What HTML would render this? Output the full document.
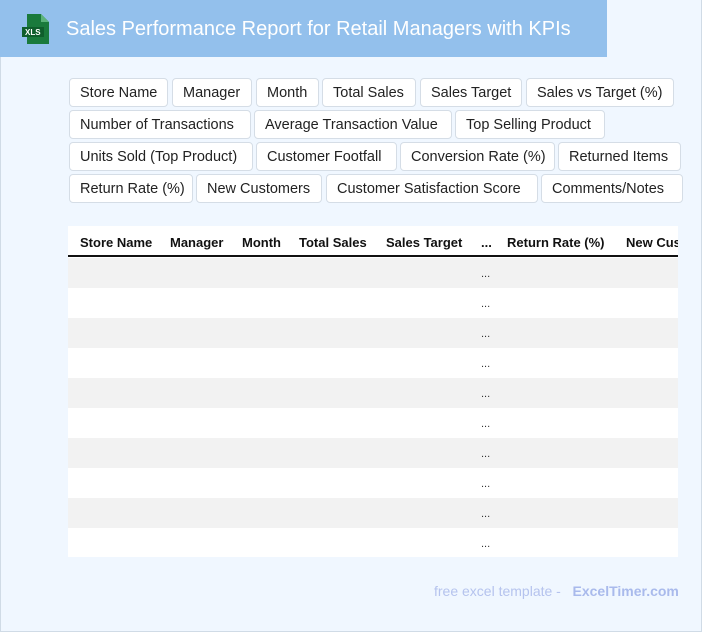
<!DOCTYPE html>
<html><head><meta charset="utf-8"><style>
*{margin:0;padding:0;box-sizing:border-box}
body{width:702px;height:632px;background:#eef6ff;font-family:"Liberation Sans",sans-serif;position:relative;overflow:hidden}
.frame{position:absolute;left:0;top:0;width:702px;height:632px;border:1px solid #d0dbe6;border-top:none;background:#f0f7ff}
.hdr{position:absolute;left:0;top:0;width:607px;height:57px;background:#93c0ec}
.hdr h1{position:absolute;left:66px;top:16px;font-size:20px;font-weight:normal;color:#fff;white-space:nowrap}
.b{position:absolute;height:29px;background:#fff;border:1px solid #d5dde6;border-radius:4px;font-size:14.5px;color:#222;line-height:29px;padding-left:10px;white-space:nowrap}
.tbl{position:absolute;left:68px;top:226px;width:610px;height:331px;background:#fff;overflow:hidden}
.th{position:absolute;top:0;height:31px;border-bottom:2px solid #111;width:610px}
.th span{position:absolute;top:9px;font-size:13px;font-weight:bold;color:#111;white-space:nowrap}
.r{position:absolute;left:0;width:610px;height:30px}
.r span{position:absolute;left:413px;top:10px;font-size:11px;color:#333}
.ft{position:absolute;top:583px;left:437px;font-size:14px;color:#b5c3ee;white-space:nowrap}
</style></head><body>
<div class="frame"></div>
<div class="hdr">
<svg style="position:absolute;left:21px;top:13px" width="30" height="32" viewBox="0 0 30 32"><path d="M6 1h14l8 8v22H6z" fill="#1a7a3c"/><path d="M20 1v8h8z" fill="#5bb37a"/><rect x="1" y="14" width="22" height="10" fill="#0f5e2c"/><text x="4" y="22" font-size="8" fill="#fff" font-family="Liberation Sans" font-weight="bold">XLS</text></svg>
<h1 style="top:18px">Sales Performance Report for Retail Managers with KPIs</h1></div>
<div class="b" style="left:69px;top:78px;width:99px">Store Name</div>
<div class="b" style="left:172px;top:78px;width:80px">Manager</div>
<div class="b" style="left:256px;top:78px;width:63px">Month</div>
<div class="b" style="left:322px;top:78px;width:94px">Total Sales</div>
<div class="b" style="left:420px;top:78px;width:102px">Sales Target</div>
<div class="b" style="left:526px;top:78px;width:148px">Sales vs Target (%)</div>
<div class="b" style="left:69px;top:110px;width:182px">Number of Transactions</div>
<div class="b" style="left:254px;top:110px;width:198px">Average Transaction Value</div>
<div class="b" style="left:455px;top:110px;width:150px">Top Selling Product</div>
<div class="b" style="left:69px;top:142px;width:184px">Units Sold (Top Product)</div>
<div class="b" style="left:256px;top:142px;width:141px">Customer Footfall</div>
<div class="b" style="left:400px;top:142px;width:155px">Conversion Rate (%)</div>
<div class="b" style="left:558px;top:142px;width:123px">Returned Items</div>
<div class="b" style="left:69px;top:174px;width:124px">Return Rate (%)</div>
<div class="b" style="left:196px;top:174px;width:126px">New Customers</div>
<div class="b" style="left:326px;top:174px;width:212px">Customer Satisfaction Score</div>
<div class="b" style="left:541px;top:174px;width:142px">Comments/Notes</div>
<div class="tbl">
<div class="th"><span style="left:12px">Store Name</span><span style="left:102px">Manager</span><span style="left:174px">Month</span><span style="left:231px">Total Sales</span><span style="left:318px">Sales Target</span><span style="left:413px">...</span><span style="left:439px">Return Rate (%)</span><span style="left:558px">New Customers</span></div>
<div class="r" style="top:32px;background:#f2f2f2"><span>...</span></div>
<div class="r" style="top:62px"><span>...</span></div>
<div class="r" style="top:92px;background:#f2f2f2"><span>...</span></div>
<div class="r" style="top:122px"><span>...</span></div>
<div class="r" style="top:152px;background:#f2f2f2"><span>...</span></div>
<div class="r" style="top:182px"><span>...</span></div>
<div class="r" style="top:212px;background:#f2f2f2"><span>...</span></div>
<div class="r" style="top:242px"><span>...</span></div>
<div class="r" style="top:272px;background:#f2f2f2"><span>...</span></div>
<div class="r" style="top:302px"><span>...</span></div>
</div>
<div class="ft" style="left:434px">free excel template - &nbsp;&nbsp;<b style="color:#a9baec">ExcelTimer.com</b></div>
</body></html>
